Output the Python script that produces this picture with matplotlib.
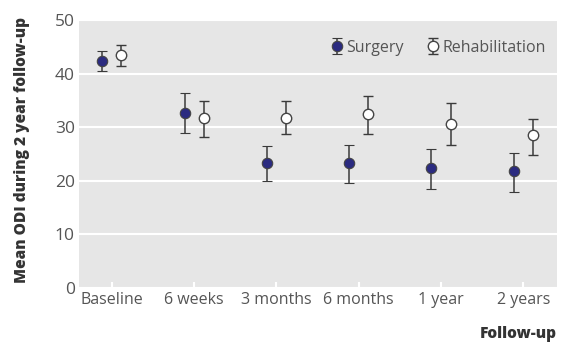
import matplotlib
matplotlib.use("Agg")
import matplotlib.pyplot as plt
import numpy as np

categories = ["Baseline", "6 weeks", "3 months", "6 months", "1 year", "2 years"]
surgery_mean = [42.4, 32.6, 23.3, 23.3, 22.4, 21.8]
surgery_low = [40.5, 29.0, 20.0, 19.5, 18.4, 17.9]
surgery_high = [44.2, 36.4, 26.4, 26.7, 26.0, 25.2]
rehab_mean = [43.5, 31.7, 31.8, 32.5, 30.6, 28.5]
rehab_low = [41.4, 28.2, 28.7, 28.8, 26.6, 24.8]
rehab_high = [45.3, 34.8, 34.8, 35.9, 34.5, 31.6]

plt.rcParams['font.family'] = ['Open Sans', 'DejaVu Sans']

fig = plt.figure(figsize=(5.74, 3.43), dpi=100)
ax = fig.add_axes([79/574, 1-288/343, (557-79)/574, (288-20)/343])
ax.set_facecolor('#e6e6e6')
for s in ax.spines.values():
    s.set_visible(False)

x = np.arange(len(categories))
off = 0.116
sm = np.array(surgery_mean); rm = np.array(rehab_mean)
s_err = [sm - np.array(surgery_low), np.array(surgery_high) - sm]
r_err = [rm - np.array(rehab_low), np.array(rehab_high) - rm]

ax.errorbar(x - off, sm, yerr=s_err, fmt='o', color='#3a3a3a', ecolor='#3a3a3a',
            elinewidth=1.1, capsize=3.5, capthick=1.1, markersize=7.5,
            markerfacecolor='#2b2b80', markeredgecolor='#444444', markeredgewidth=0.8,
            label='Surgery', zorder=3)
ax.errorbar(x + off, rm, yerr=r_err, fmt='o', color='#3a3a3a', ecolor='#3a3a3a',
            elinewidth=1.1, capsize=3.5, capthick=1.1, markersize=7.5,
            markerfacecolor='white', markeredgecolor='#444444', markeredgewidth=1.0,
            label='Rehabilitation', zorder=3)

ax.set_xlim(-0.4, 5.41)
ax.set_ylim(0, 50)
ax.set_yticks([0, 10, 20, 30, 40, 50])
ax.set_xticks(x)
ax.set_xticklabels(categories)
ax.yaxis.grid(True, color='white', linewidth=1.5)
ax.set_axisbelow(True)
ax.tick_params(axis='y', length=0, labelsize=12.5, labelcolor='#555555', pad=3)
ax.tick_params(axis='x', direction='in', length=4, color='white', width=1.5,
               labelsize=11.5, labelcolor='#555555', pad=3)

fig.text(22/574, 1-150/343, 'Mean ODI during 2 year follow-up', rotation=90,
         ha='center', va='center', fontsize=11.2, fontweight='heavy', color='#333333')
fig.text(557/574, 1-334/343, 'Follow-up', ha='right', va='center',
         fontsize=11.2, fontweight='heavy', color='#333333')

leg = ax.legend(loc='upper right', ncol=2, frameon=False, fontsize=11.5,
                handletextpad=0.1, columnspacing=1.3, borderaxespad=0.0,
                bbox_to_anchor=(0.99, 0.95),
                handlelength=1.0, labelcolor='#555555')

fig.savefig('out.png', dpi=100)
